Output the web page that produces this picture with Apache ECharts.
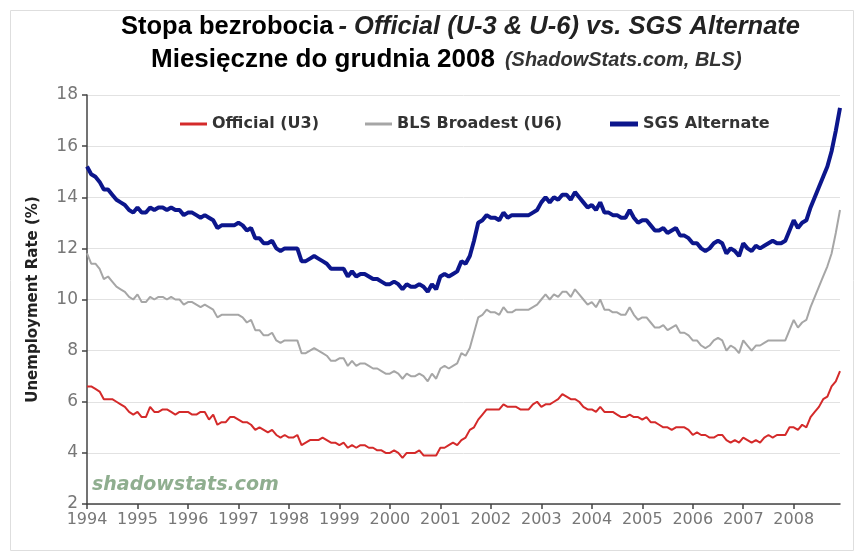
<!DOCTYPE html>
<html>
<head>
<meta charset="utf-8">
<title>Stopa bezrobocia</title>
<script src="https://cdn.jsdelivr.net/npm/echarts@6/dist/echarts.min.js"></script>
<style>
    html, body { margin: 0; padding: 0; background: #fff; }
    #chart { width: 859px; height: 552px; }
</style>
</head>
<body>
<div id="chart"></div>
<script>
    // lata na osi X
    var years = ['1994', '1995', '1996', '1997', '1998', '1999', '2000', '2001',
        '2002', '2003', '2004', '2005', '2006', '2007', '2008'];

    // Official (U3), miesiecznie 1994-2008
    var u3 = [
        6.6, 6.6, 6.5, 6.4, 6.1, 6.1, 6.1, 6.0, 5.9, 5.8, 5.6, 5.5,
        5.6, 5.4, 5.4, 5.8, 5.6, 5.6, 5.7, 5.7, 5.6, 5.5, 5.6, 5.6,
        5.6, 5.5, 5.5, 5.6, 5.6, 5.3, 5.5, 5.1, 5.2, 5.2, 5.4, 5.4,
        5.3, 5.2, 5.2, 5.1, 4.9, 5.0, 4.9, 4.8, 4.9, 4.7, 4.6, 4.7,
        4.6, 4.6, 4.7, 4.3, 4.4, 4.5, 4.5, 4.5, 4.6, 4.5, 4.4, 4.4,
        4.3, 4.4, 4.2, 4.3, 4.2, 4.3, 4.3, 4.2, 4.2, 4.1, 4.1, 4.0,
        4.0, 4.1, 4.0, 3.8, 4.0, 4.0, 4.0, 4.1, 3.9, 3.9, 3.9, 3.9,
        4.2, 4.2, 4.3, 4.4, 4.3, 4.5, 4.6, 4.9, 5.0, 5.3, 5.5, 5.7,
        5.7, 5.7, 5.7, 5.9, 5.8, 5.8, 5.8, 5.7, 5.7, 5.7, 5.9, 6.0,
        5.8, 5.9, 5.9, 6.0, 6.1, 6.3, 6.2, 6.1, 6.1, 6.0, 5.8, 5.7,
        5.7, 5.6, 5.8, 5.6, 5.6, 5.6, 5.5, 5.4, 5.4, 5.5, 5.4, 5.4,
        5.3, 5.4, 5.2, 5.2, 5.1, 5.0, 5.0, 4.9, 5.0, 5.0, 5.0, 4.9,
        4.7, 4.8, 4.7, 4.7, 4.6, 4.6, 4.7, 4.7, 4.5, 4.4, 4.5, 4.4,
        4.6, 4.5, 4.4, 4.5, 4.4, 4.6, 4.7, 4.6, 4.7, 4.7, 4.7, 5.0,
        5.0, 4.9, 5.1, 5.0, 5.4, 5.6, 5.8, 6.1, 6.2, 6.6, 6.8, 7.2
    ];

    // BLS Broadest (U6)
    var u6 = [
        11.8, 11.4, 11.4, 11.2, 10.8, 10.9, 10.7, 10.5, 10.4, 10.3, 10.1, 10.0,
        10.2, 9.9, 9.9, 10.1, 10.0, 10.1, 10.1, 10.0, 10.1, 10.0, 10.0, 9.8,
        9.9, 9.9, 9.8, 9.7, 9.8, 9.7, 9.6, 9.3, 9.4, 9.4, 9.4, 9.4,
        9.4, 9.3, 9.1, 9.2, 8.8, 8.8, 8.6, 8.6, 8.7, 8.4, 8.3, 8.4,
        8.4, 8.4, 8.4, 7.9, 7.9, 8.0, 8.1, 8.0, 7.9, 7.8, 7.6, 7.6,
        7.7, 7.7, 7.4, 7.6, 7.4, 7.5, 7.5, 7.4, 7.3, 7.3, 7.2, 7.1,
        7.1, 7.2, 7.1, 6.9, 7.1, 7.0, 7.0, 7.1, 7.0, 6.8, 7.1, 6.9,
        7.3, 7.4, 7.3, 7.4, 7.5, 7.9, 7.8, 8.1, 8.7, 9.3, 9.4, 9.6,
        9.5, 9.5, 9.4, 9.7, 9.5, 9.5, 9.6, 9.6, 9.6, 9.6, 9.7, 9.8,
        10.0, 10.2, 10.0, 10.2, 10.1, 10.3, 10.3, 10.1, 10.4, 10.2, 10.0, 9.8,
        9.9, 9.7, 10.0, 9.6, 9.6, 9.5, 9.5, 9.4, 9.4, 9.7, 9.4, 9.2,
        9.3, 9.3, 9.1, 8.9, 8.9, 9.0, 8.8, 8.9, 9.0, 8.7, 8.7, 8.6,
        8.4, 8.4, 8.2, 8.1, 8.2, 8.4, 8.5, 8.4, 8.0, 8.2, 8.1, 7.9,
        8.4, 8.2, 8.0, 8.2, 8.2, 8.3, 8.4, 8.4, 8.4, 8.4, 8.4, 8.8,
        9.2, 8.9, 9.1, 9.2, 9.7, 10.1, 10.5, 10.9, 11.3, 11.8, 12.6, 13.5
    ];

    // SGS Alternate
    var sgs = [
        15.2, 14.9, 14.8, 14.6, 14.3, 14.3, 14.1, 13.9, 13.8, 13.7, 13.5, 13.4,
        13.6, 13.4, 13.4, 13.6, 13.5, 13.6, 13.6, 13.5, 13.6, 13.5, 13.5, 13.3,
        13.4, 13.4, 13.3, 13.2, 13.3, 13.2, 13.1, 12.8, 12.9, 12.9, 12.9, 12.9,
        13.0, 12.9, 12.7, 12.8, 12.4, 12.4, 12.2, 12.2, 12.3, 12.0, 11.9, 12.0,
        12.0, 12.0, 12.0, 11.5, 11.5, 11.6, 11.7, 11.6, 11.5, 11.4, 11.2, 11.2,
        11.2, 11.2, 10.9, 11.1, 10.9, 11.0, 11.0, 10.9, 10.8, 10.8, 10.7, 10.6,
        10.6, 10.7, 10.6, 10.4, 10.6, 10.5, 10.5, 10.6, 10.5, 10.3, 10.6, 10.4,
        10.9, 11.0, 10.9, 11.0, 11.1, 11.5, 11.4, 11.7, 12.3, 13.0, 13.1, 13.3,
        13.2, 13.2, 13.1, 13.4, 13.2, 13.3, 13.3, 13.3, 13.3, 13.3, 13.4, 13.5,
        13.8, 14.0, 13.8, 14.0, 13.9, 14.1, 14.1, 13.9, 14.2, 14.0, 13.8, 13.6,
        13.7, 13.5, 13.8, 13.4, 13.4, 13.3, 13.3, 13.2, 13.2, 13.5, 13.2, 13.0,
        13.1, 13.1, 12.9, 12.7, 12.7, 12.8, 12.6, 12.7, 12.8, 12.5, 12.5, 12.4,
        12.2, 12.2, 12.0, 11.9, 12.0, 12.2, 12.3, 12.2, 11.8, 12.0, 11.9, 11.7,
        12.2, 12.0, 11.9, 12.1, 12.0, 12.1, 12.2, 12.3, 12.2, 12.2, 12.3, 12.7,
        13.1, 12.8, 13.0, 13.1, 13.6, 14.0, 14.4, 14.8, 15.2, 15.8, 16.6, 17.5
    ];

    // miesiace jako kategorie
    var months = [];
    for (var i = 0; i < years.length; i++) {
        for (var m = 1; m <= 12; m++) {
            months.push(years[i] + '-' + (m < 10 ? '0' + m : m));
        }
    }

    var everyYear = function (index) {
        return index % 12 === 0;
    };

    var legendText = {
        fontFamily: 'DejaVu Sans, Verdana, sans-serif',
        fontWeight: 'bold',
        fontSize: 16,
        color: '#333'
    };

    var titleFont = 'Liberation Sans Narrow, Arial Narrow, Liberation Sans, sans-serif';

    var option = {
        backgroundColor: '#fff',
        animation: false,
        title: [{
            text: '{a|Stopa bezrobocia} {b|- Official (U-3 & U-6) vs. SGS Alternate}',
            left: 116,
            top: 9,
            textStyle: {
                rich: {
                    a: {fontFamily: titleFont, fontWeight: 'bold', fontSize: 25.5, color: '#000'},
                    b: {fontFamily: titleFont, fontWeight: 'bold', fontStyle: 'italic', fontSize: 25.5, color: '#222'}
                }
            }
        }, {
            text: '{a|Miesięczne do grudnia 2008}  {b|(ShadowStats.com, BLS)}',
            left: 146,
            top: 42,
            textStyle: {
                rich: {
                    a: {fontFamily: titleFont, fontWeight: 'bold', fontSize: 26, color: '#000'},
                    b: {fontFamily: titleFont, fontWeight: 'bold', fontStyle: 'italic', fontSize: 20, color: '#333'}
                }
            }
        }],
        legend: [{
            data: ['Official (U3)'],
            left: 175, top: 111,
            icon: 'rect', itemWidth: 27, itemHeight: 3, itemGap: 7,
            textStyle: legendText
        }, {
            data: ['BLS Broadest (U6)'],
            left: 360, top: 111,
            icon: 'rect', itemWidth: 27, itemHeight: 3,
            textStyle: legendText
        }, {
            data: ['SGS Alternate'],
            left: 605, top: 111,
            icon: 'rect', itemWidth: 28, itemHeight: 5,
            textStyle: legendText
        }],
        grid: {
            left: 87,
            right: 19,
            top: 95,
            bottom: 48
        },
        xAxis: {
            type: 'category',
            data: months,
            boundaryGap: false,
            axisLine: {lineStyle: {color: '#444', width: 1.5}},
            axisTick: {interval: everyYear, length: 5, lineStyle: {color: '#444', width: 1.5}},
            axisLabel: {
                interval: everyYear,
                margin: 8,
                color: '#777',
                fontFamily: 'DejaVu Sans, Verdana, sans-serif',
                fontSize: 16,
                formatter: function (v) {
                    return v.substring(0, 4);
                }
            },
            splitLine: {show: false}
        },
        yAxis: {
            type: 'value',
            min: 2,
            max: 18,
            interval: 2,
            name: 'Unemployment Rate (%)',
            nameLocation: 'middle',
            nameGap: 46,
            nameTextStyle: {
                fontFamily: 'DejaVu Sans, Verdana, sans-serif',
                fontWeight: 'bold',
                fontSize: 15,
                color: '#222'
            },
            axisLine: {show: true, lineStyle: {color: '#444', width: 1.5}},
            axisTick: {show: true, length: 5, lineStyle: {color: '#444', width: 1.5}},
            axisLabel: {
                margin: 9,
                color: '#777',
                fontFamily: 'DejaVu Sans, Verdana, sans-serif',
                fontSize: 17
            },
            splitLine: {lineStyle: {color: '#e2e2e2', width: 1}}
        },
        graphic: [{
            type: 'rect',
            left: 8, top: 8,
            shape: {width: 843, height: 540},
            style: {fill: 'none', stroke: '#dedede', lineWidth: 1},
            silent: true
        }, {
            type: 'text',
            left: 92, top: 476,
            style: {
                text: 'shadowstats.com',
                font: 'italic bold 19px "DejaVu Sans", Verdana, sans-serif',
                fill: '#8fae8f'
            },
            silent: true
        }],
        series: [{
            name: 'Official (U3)',
            type: 'line',
            data: u3,
            showSymbol: false,
            color: '#d42a2a',
            lineStyle: {width: 2}
        }, {
            name: 'BLS Broadest (U6)',
            type: 'line',
            data: u6,
            showSymbol: false,
            color: '#a6a6a6',
            lineStyle: {width: 2}
        }, {
            name: 'SGS Alternate',
            type: 'line',
            data: sgs,
            showSymbol: false,
            color: '#0c168c',
            lineStyle: {width: 4}
        }]
    };

    var myChart = echarts.init(document.getElementById('chart'));
    myChart.setOption(option);
</script>
</body>
</html>
